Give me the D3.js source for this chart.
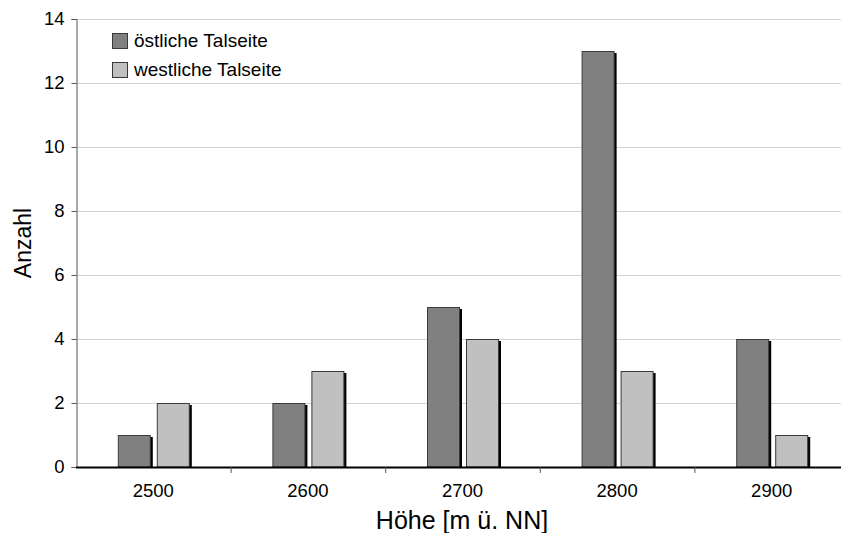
<!DOCTYPE html>
<html>
<head>
<meta charset="utf-8">
<script src="https://cdn.jsdelivr.net/npm/d3@7"></script>
<style>
  html, body { margin: 0; padding: 0; background: #fff; }
  svg { display: block; font-family: "Liberation Sans", Arial, sans-serif; }
</style>
</head>
<body>
<svg id="chart" width="841" height="533"></svg>
<script>
// Höhenstufen und Anzahl je Talseite
const categories = ["2500", "2600", "2700", "2800", "2900"];
const seriesNames = ["östliche Talseite", "westliche Talseite"];
const ostValues = [1, 2, 5, 13, 4];
const westValues = [2, 3, 4, 3, 1];
const yTicks = [0, 2, 4, 6, 8, 10, 12, 14];

const colors = ["#808080", "#c0c0c0"];
const series = [ostValues, westValues];

const svg = d3.select("#chart");
const plotLeft = 76, plotRight = 849, plotTop = 19, plotBottom = 467;

const x = d3.scaleBand().domain(categories).range([plotLeft, plotRight]).padding(0);
const y = d3.scaleLinear().domain([0, 14]).range([plotBottom, plotTop]);

const barW = 32, gap = 7;
const groupW = 2 * barW + gap;

// Gitterlinien
svg.append("g").selectAll("line")
  .data(yTicks.filter(d => d > 0))
  .join("line")
  .attr("x1", plotLeft).attr("x2", 841)
  .attr("y1", d => y(d) + 0.5).attr("y2", d => y(d) + 0.5)
  .attr("stroke", "#d4d4d4").attr("stroke-width", 1);

// Balken mit Schlagschatten
series.forEach((vals, si) => {
  const g = svg.append("g");
  const xs = i => x(categories[i]) + x.bandwidth() / 2 - groupW / 2 + si * (barW + gap);
  g.selectAll("rect.shadow")
    .data(vals)
    .join("rect")
    .attr("class", "shadow")
    .attr("x", (d, i) => xs(i) + 3)
    .attr("y", d => y(d) + 2)
    .attr("width", barW)
    .attr("height", d => plotBottom - y(d) - 2)
    .attr("fill", "#000");
  g.selectAll("rect.bar")
    .data(vals)
    .join("rect")
    .attr("class", "bar")
    .attr("x", (d, i) => xs(i) + 0.5)
    .attr("y", d => y(d) + 0.5)
    .attr("width", barW)
    .attr("height", d => plotBottom - y(d) - 0.5)
    .attr("fill", colors[si])
    .attr("stroke", "#3a3a3a")
    .attr("stroke-width", 1);
});

// Y-Achse
const yAxis = d3.axisLeft(y).tickValues(yTicks).tickSize(5).tickPadding(7);
const gy = svg.append("g").attr("transform", `translate(${plotLeft + 0.5},0)`).call(yAxis);
gy.select(".domain").attr("stroke", "#555").attr("stroke-width", 1);
gy.selectAll(".tick line").attr("stroke", "#555");
gy.selectAll(".tick text").attr("font-size", 18.5).attr("fill", "#000")
  .attr("font-family", "Liberation Sans, Arial, sans-serif");

// X-Achse
const xAxis = d3.axisBottom(x).tickSize(0).tickPadding(17);
const gx = svg.append("g").attr("transform", `translate(0,${plotBottom})`).call(xAxis);
gx.select(".domain").remove();
gx.selectAll(".tick text").attr("font-size", 18.5).attr("fill", "#000")
  .attr("font-family", "Liberation Sans, Arial, sans-serif");
svg.append("line")
  .attr("x1", plotLeft).attr("x2", 841)
  .attr("y1", plotBottom + 0.5).attr("y2", plotBottom + 0.5)
  .attr("stroke", "#000").attr("stroke-width", 2);
// Trennstriche zwischen den Kategorien
svg.append("g").selectAll("line")
  .data(categories.slice(1))
  .join("line")
  .attr("x1", d => x(d) + 0.5).attr("x2", d => x(d) + 0.5)
  .attr("y1", plotBottom).attr("y2", plotBottom + 6)
  .attr("stroke", "#555");

// Achsentitel
svg.append("text")
  .attr("transform", `translate(31,${(plotTop + plotBottom) / 2}) rotate(-90)`)
  .attr("text-anchor", "middle")
  .attr("font-size", 23)
  .text("Anzahl");
svg.append("text")
  .attr("x", 462)
  .attr("y", 529)
  .attr("text-anchor", "middle")
  .attr("font-size", 25)
  .text("Höhe [m ü. NN]");

// Legende
const leg = svg.append("g");
seriesNames.forEach((name, i) => {
  const ly = 33 + i * 29;
  leg.append("rect")
    .attr("x", 112.5).attr("y", ly + 0.5)
    .attr("width", 15).attr("height", 15)
    .attr("fill", colors[i]).attr("stroke", "#3a3a3a");
  leg.append("text")
    .attr("x", 134).attr("y", ly + 14)
    .attr("font-size", 19)
    .text(name);
});
</script>
</body>
</html>
